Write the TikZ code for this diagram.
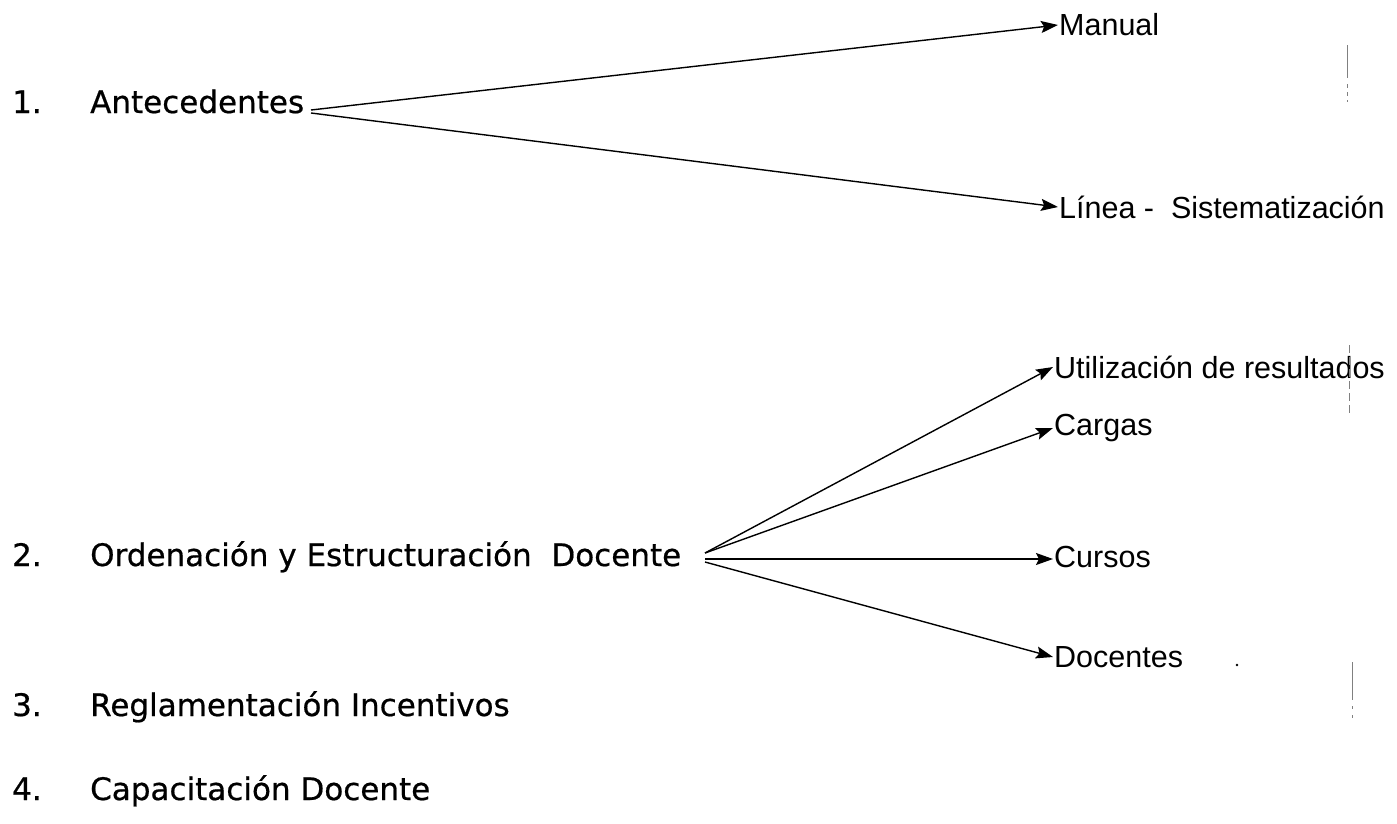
\documentclass[tikz,border=0pt]{standalone}
\usepackage{fontspec}
\setmainfont{Liberation Sans}
\newfontfamily\leftfont[FakeBold=0.6]{DejaVu Sans}
\usetikzlibrary{arrows.meta}
\begin{document}
\begin{tikzpicture}[x=1pt,y=-1pt,
  item/.style={anchor=base west,inner sep=0pt,font=\leftfont\fontsize{31}{36}\selectfont},
  leaf/.style={anchor=west,inner sep=1pt,font=\fontsize{30.5}{36}\selectfont},
  conn/.style={line width=1.4pt,-{Stealth[length=17pt,width=12pt,inset=3pt]}},
  stray/.style={gray,line width=1pt}]
\useasboundingbox (0,0) rectangle (1397,823);
% list
\node[item] (n1) at (12,113) {1.};
\node[item] (t1) at (90,113) {Antecedentes};
\node[item] (n2) at (12,566) {2.};
\node[item] (t2) at (90,566) {Ordenación y Estructuración\ \ Docente};
\node[item] (n3) at (12,716) {3.};
\node[item] (t3) at (90,716) {Reglamentación Incentivos};
\node[item] (n4) at (12,800) {4.};
\node[item] (t4) at (90,800) {Capacitación Docente};
% leaves
\node[leaf] (manual) at (1058,25) {Manual};
\node[leaf] (linea) at (1058,207) {Línea -\ \ Sistematización};
\node[leaf] (util) at (1053,367) {Utilización de resultados};
\node[leaf] (cargas) at (1053,428) {Cargas};
\node[leaf] (cursos) at (1053,557) {Cursos};
\node[leaf] (docentes) at (1053,657) {Docentes};
% origins
\coordinate (o1a) at (311,110);
\coordinate (o1b) at (311,113);
\coordinate (o2a) at (705,553);
\coordinate (o2b) at (705,559);
\coordinate (o2c) at (705,562);
% connectors
\draw[conn] (o1a) -- (manual.west);
\draw[conn] (o1b) -- (linea.west);
\draw[conn] (o2a) -- (util.west);
\draw[conn] (o2a) -- (cargas.west);
\draw[conn] (o2b) -- (cursos.west |- o2b);
\draw[conn] (o2c) -- (docentes.west);
% stray scan marks
\draw[stray] (1347,45) -- (1347,78);
\draw[stray,dash pattern=on 4pt off 4pt] (1347,84) -- (1347,102);
\draw[stray,dash pattern=on 8pt off 4pt] (1349,345) -- (1349,415);
\draw[stray] (1352,662) -- (1352,700);
\draw[stray,dash pattern=on 3pt off 6pt] (1352,706) -- (1352,720);
\fill (1237,665) circle (1.3pt);
\end{tikzpicture}
\end{document}
